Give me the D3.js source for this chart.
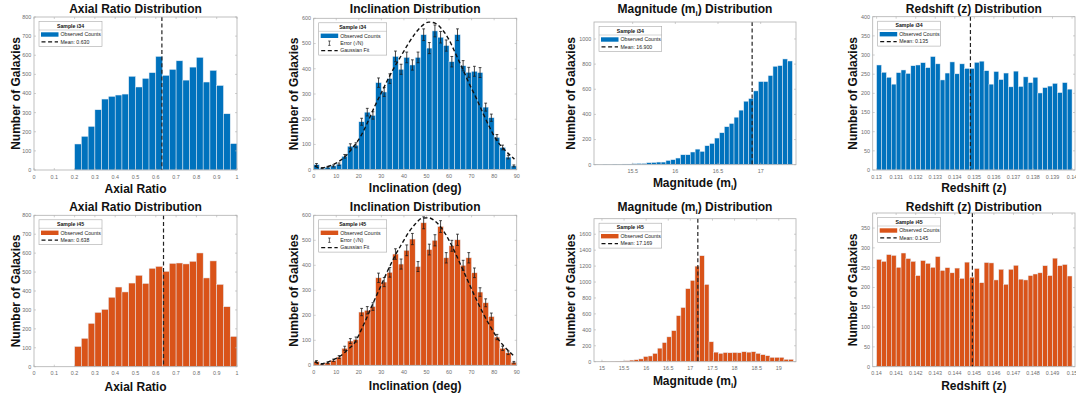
<!DOCTYPE html>
<html>
<head>
<meta charset="utf-8">
<style>
	body { margin: 0; background: #fff; }
	svg { display: block; font-family: "Liberation Sans", Arial, Helvetica, sans-serif; }
</style>
<script src="https://d3js.org/d3.v7.min.js"></script>
</head>
<body>
<div id="chart"></div>
<script>
	// ---- data ----
	var samples = ["i34", "i45"];

	// axial ratio: 24 bins from 0.2 to 1.0
	var axialStart = 0.2, axialWidth = 0.8 / 24;
	var axialI34 = [136, 176, 228, 315, 371, 385, 392, 397, 490, 434, 479, 509, 594, 495, 526, 571, 470, 538, 589, 460, 521, 442, 294, 138];
	var axialI45 = [107, 150, 229, 287, 303, 367, 421, 395, 442, 483, 440, 520, 530, 504, 546, 548, 543, 557, 601, 469, 559, 435, 317, 160];
	var axialMeans = [0.630, 0.638];
	var axialTicks = [0, 0.1, 0.2, 0.3, 0.4, 0.5, 0.6, 0.7, 0.8, 0.9, 1];
	var axialYTicks = [0, 100, 200, 300, 400, 500, 600, 700, 800];

	// inclination: 36 bins of 2.5 deg
	var inclStart = 0, inclWidth = 2.5;
	var inclI34 = [20, 6, 10, 15, 22, 53, 93, 97, 190, 228, 215, 345, 308, 361, 449, 398, 445, 415, 445, 535, 482, 550, 525, 492, 428, 535, 412, 386, 390, 385, 248, 206, 128, 88, 50, 15];
	var inclI45 = [15, 5, 10, 20, 33, 68, 97, 103, 213, 220, 235, 350, 333, 372, 445, 405, 460, 505, 395, 570, 463, 500, 555, 430, 478, 502, 400, 430, 370, 293, 250, 195, 113, 68, 50, 12];
	var fitDeg = [0.5, 3, 6, 9, 12, 15, 18, 21, 24, 27, 30, 33, 36, 39, 42, 45, 48, 51, 54, 57, 60, 63, 66, 69, 72, 75, 78, 81, 84, 87, 89];
	var fitI34 = [14, 6, 12, 22, 38, 62, 95, 135, 190, 250, 305, 360, 410, 455, 500, 540, 570, 585, 580, 555, 515, 458, 400, 340, 285, 225, 168, 118, 85, 58, 42];
	var fitI45 = [15, 5, 12, 24, 38, 62, 88, 140, 200, 262, 322, 382, 437, 485, 530, 565, 588, 590, 575, 545, 500, 445, 385, 325, 265, 210, 160, 115, 80, 52, 35];
	var inclTicks = [0, 10, 20, 30, 40, 50, 60, 70, 80, 90];
	var inclYTicks = [0, 100, 200, 300, 400, 500, 600];

	// magnitude m_i
	var magStartI34 = 15.035, magWidthI34 = 0.057;
	var magI34 = [2, 1, 3, 2, 4, 3, 5, 5, 8, 10, 10, 16, 18, 21, 21, 34, 40, 53, 79, 79, 101, 124, 106, 151, 169, 212, 254, 302, 328, 378, 434, 505, 526, 587, 661, 661, 709, 783, 788, 841, 825];
	var magStartI45 = 14.984, magWidthI45 = 0.106;
	var magI45 = [5, 2, 3, 5, 8, 12, 20, 25, 35, 65, 72, 104, 170, 240, 312, 390, 578, 680, 917, 1020, 1200, 1330, 970, 250, 120, 105, 115, 112, 115, 112, 125, 120, 125, 105, 88, 75, 55, 55, 55, 30, 30];
	var magMeans = [16.900, 17.169];
	var magTicksI34 = [15.5, 16, 16.5, 17];
	var magTicksI45 = [15, 15.5, 16, 16.5, 17, 17.5, 18, 18.5, 19];
	var magYTicksI34 = [0, 200, 400, 600, 800, 1000];
	var magYTicksI45 = [0, 200, 400, 600, 800, 1000, 1200, 1400, 1600];

	// redshift z: 40 bins per sample
	var zStartI34 = 0.13, zStartI45 = 0.14, zWidth = 0.00025;
	var zI34 = [274, 255, 242, 224, 254, 261, 252, 272, 274, 280, 267, 296, 277, 235, 253, 282, 251, 277, 265, 265, 281, 284, 259, 224, 257, 236, 253, 217, 258, 218, 243, 228, 242, 201, 215, 219, 226, 202, 228, 211];
	var zI45 = [271, 266, 283, 281, 251, 287, 273, 266, 230, 268, 261, 251, 278, 243, 250, 237, 249, 223, 264, 226, 248, 212, 263, 262, 219, 246, 208, 246, 256, 221, 219, 230, 234, 237, 255, 230, 274, 255, 258, 229];
	var zMeans = [0.1348, 0.1449];
	var zMeanLabels = ["0.135", "0.145"];
	var zTicksI34 = [0.13, 0.131, 0.132, 0.133, 0.134, 0.135, 0.136, 0.137, 0.138, 0.139, 0.14];
	var zTicksI45 = [0.14, 0.141, 0.142, 0.143, 0.144, 0.145, 0.146, 0.147, 0.148, 0.149, 0.15];
	var zYTicksI34 = [0, 50, 100, 150, 200, 250, 300, 350, 400];
	var zYTicksI45 = [0, 50, 100, 150, 200, 250, 300, 350];

	var colors = ["#0072BD", "#D95319"];

	var W = 1076, H = 398;
	var svg = d3.select("#chart").append("svg").attr("width", W).attr("height", H);

	function fmt(d) { return String(+d.toFixed(4)); }

	function drawPanel(p) {
		var g = svg.append("g");
		var x = d3.scaleLinear().domain(p.xDomain).range([p.box[0], p.box[2]]);
		var y = d3.scaleLinear().domain(p.yDomain).range([p.box[3], p.box[1]]);
		var pw = p.box[2] - p.box[0], ph = p.box[3] - p.box[1];
		var cx = (p.box[0] + p.box[2]) / 2, cy = (p.box[1] + p.box[3]) / 2;

		// bars
		var bins = p.counts.map(function(c, i) {
			return { x0: p.start + i * p.width, x1: p.start + (i + 1) * p.width, n: c };
		});
		g.selectAll("rect.bar").data(bins).enter().append("rect")
			.attr("x", function(d) { return x(d.x0); })
			.attr("width", function(d) { return x(d.x1) - x(d.x0); })
			.attr("y", function(d) { return y(d.n); })
			.attr("height", function(d) { return y(0) - y(d.n); })
			.attr("fill", p.color)
			.attr("stroke", "#e8eef5")
			.attr("stroke-width", 0.5);

		// error bars (sqrt N)
		if (p.errors) {
			var eb = g.append("g").attr("stroke", "#1a1a1a").attr("stroke-width", 0.8);
			bins.forEach(function(d) {
				var xc = x((d.x0 + d.x1) / 2), e = Math.sqrt(d.n);
				var lo = y(Math.max(0, d.n - e)), hi = y(d.n + e);
				eb.append("line").attr("x1", xc).attr("x2", xc).attr("y1", lo).attr("y2", hi);
				eb.append("line").attr("x1", xc - 1.4).attr("x2", xc + 1.4).attr("y1", lo).attr("y2", lo);
				eb.append("line").attr("x1", xc - 1.4).attr("x2", xc + 1.4).attr("y1", hi).attr("y2", hi);
			});
		}

		// gaussian fit
		if (p.fit) {
			var line = d3.line()
				.x(function(d) { return x(d[0]); })
				.y(function(d) { return y(d[1]); })
				.curve(d3.curveMonotoneX);
			g.append("path").datum(p.fit)
				.attr("d", line)
				.attr("fill", "none")
				.attr("stroke", "#111")
				.attr("stroke-width", 1.4)
				.attr("stroke-dasharray", "4,2.6");
		}

		// mean line
		if (p.mean != null) {
			g.append("line")
				.attr("x1", x(p.mean)).attr("x2", x(p.mean))
				.attr("y1", p.box[1]).attr("y2", p.box[3])
				.attr("stroke", "#222").attr("stroke-width", 1.2)
				.attr("stroke-dasharray", "4,2.6");
		}

		// axes box + inward ticks
		var axisCol = "#b0b0b0", tickCol = "#6e6e6e";
		g.append("rect").attr("x", p.box[0]).attr("y", p.box[1]).attr("width", pw).attr("height", ph)
			.attr("fill", "none").attr("stroke", axisCol).attr("stroke-width", 0.8);
		var ax = g.append("g").attr("stroke", axisCol).attr("stroke-width", 0.6);
		p.xTicks.forEach(function(t) {
			ax.append("line").attr("x1", x(t)).attr("x2", x(t)).attr("y1", p.box[3]).attr("y2", p.box[3] - 2);
			ax.append("line").attr("x1", x(t)).attr("x2", x(t)).attr("y1", p.box[1]).attr("y2", p.box[1] + 2);
		});
		p.yTicks.forEach(function(t) {
			ax.append("line").attr("x1", p.box[0]).attr("x2", p.box[0] + 2).attr("y1", y(t)).attr("y2", y(t));
			ax.append("line").attr("x1", p.box[2]).attr("x2", p.box[2] - 2).attr("y1", y(t)).attr("y2", y(t));
		});
		g.selectAll("text.xt").data(p.xTicks).enter().append("text")
			.attr("x", function(d) { return x(d); })
			.attr("y", p.box[3] + 8.6)
			.attr("text-anchor", "middle")
			.attr("font-size", 5.4).attr("fill", tickCol)
			.text(fmt);
		g.selectAll("text.yt").data(p.yTicks).enter().append("text")
			.attr("x", p.box[0] - 2.8)
			.attr("y", function(d) { return y(d) + 1.9; })
			.attr("text-anchor", "end")
			.attr("font-size", 5.4).attr("fill", tickCol)
			.text(fmt);

		// title and labels
		var title = g.append("text").attr("x", cx).attr("y", p.titleY)
			.attr("text-anchor", "middle").attr("font-size", 12).attr("font-weight", "bold").attr("fill", "#111");
		addText(title, p.title);
		var xl = g.append("text").attr("x", cx).attr("y", p.xlabelY)
			.attr("text-anchor", "middle").attr("font-size", 12).attr("font-weight", "bold").attr("fill", "#111");
		addText(xl, p.xlabel);
		g.append("text")
			.attr("transform", "translate(" + p.ylabelX + "," + cy + ") rotate(-90)")
			.attr("text-anchor", "middle").attr("font-size", 12).attr("font-weight", "bold").attr("fill", "#111")
			.text("Number of Galaxies");

		drawLegend(g, p.box[0] + 5, p.box[1] + 4.5, p.legendW, p.legendTitle, p.legendRows, p.color);
	}

	// text parts: plain strings or {sub: "..."}
	function addText(sel, parts) {
		var back = 0;
		parts.forEach(function(s) {
			if (typeof s === "string") {
				var t = sel.append("tspan").text(s);
				if (back) { t.attr("dy", -back); back = 0; }
			} else {
				sel.append("tspan").attr("font-size", 8).attr("dy", 3).text(s.sub);
				back = 3;
			}
		});
	}

	function drawLegend(g, lx, ly, w, title, rows, color) {
		var titleH = 8.5, rowH = 7.4;
		var h = titleH + rows.length * rowH + 1.6;
		var lg = g.append("g");
		lg.append("rect").attr("x", lx).attr("y", ly).attr("width", w).attr("height", h)
			.attr("fill", "#fff").attr("stroke", "#a8a8a8").attr("stroke-width", 0.6);
		lg.append("line").attr("x1", lx).attr("x2", lx + w).attr("y1", ly + titleH).attr("y2", ly + titleH)
			.attr("stroke", "#a8a8a8").attr("stroke-width", 0.5);
		lg.append("text").attr("x", lx + w / 2).attr("y", ly + 6.2)
			.attr("text-anchor", "middle").attr("font-size", 5.2).attr("font-weight", "bold").attr("fill", "#111")
			.text(title);
		rows.forEach(function(r, i) {
			var ry = ly + titleH + rowH * (i + 0.5) + 0.8;
			if (r.type === "patch") {
				lg.append("rect").attr("x", lx + 2).attr("y", ry - 2.2).attr("width", 17.5).attr("height", 4.4)
					.attr("fill", color);
			} else if (r.type === "dash") {
				lg.append("line").attr("x1", lx + 2.5).attr("x2", lx + 19).attr("y1", ry).attr("y2", ry)
					.attr("stroke", "#111").attr("stroke-width", 1.2).attr("stroke-dasharray", "4,2.6");
			} else if (r.type === "err") {
				var ex = lx + 10.7;
				var e = lg.append("g").attr("stroke", "#222").attr("stroke-width", 0.7);
				e.append("line").attr("x1", ex).attr("x2", ex).attr("y1", ry - 2.2).attr("y2", ry + 2.2);
				e.append("line").attr("x1", ex - 1.2).attr("x2", ex + 1.2).attr("y1", ry - 2.2).attr("y2", ry - 2.2);
				e.append("line").attr("x1", ex - 1.2).attr("x2", ex + 1.2).attr("y1", ry + 2.2).attr("y2", ry + 2.2);
			}
			lg.append("text").attr("x", lx + 21.5).attr("y", ry + 1.8)
				.attr("font-size", 5.2).attr("fill", "#222").text(r.text);
		});
	}

	// ---- panel layout ----
	var rowTitleY = [12.5, 210.5];
	var panels = [];
	[0, 1].forEach(function(s) {
		var top = s === 0;
		var sname = "Sample " + samples[s];
		panels.push({
			box: top ? [34, 17, 237, 170] : [34, 215.3, 237, 366.7],
			xDomain: [0, 1], yDomain: [0, 800],
			xTicks: axialTicks, yTicks: axialYTicks,
			start: axialStart, width: axialWidth, counts: top ? axialI34 : axialI45,
			color: colors[s], mean: axialMeans[s],
			title: ["Axial Ratio Distribution"], xlabel: ["Axial Ratio"],
			titleY: rowTitleY[s], xlabelY: top ? 193 : 390.5, ylabelX: 19.5,
			legendW: 63, legendTitle: sname,
			legendRows: [{ type: "patch", text: "Observed Counts" }, { type: "dash", text: "Mean: " + axialMeans[s].toFixed(3) }]
		});
		var fitVals = top ? fitI34 : fitI45;
		panels.push({
			box: top ? [313.7, 18.3, 516.7, 169.7] : [313.7, 215.3, 516.7, 365.3],
			xDomain: [0, 90], yDomain: [0, 600],
			xTicks: inclTicks, yTicks: inclYTicks,
			start: inclStart, width: inclWidth, counts: top ? inclI34 : inclI45,
			color: colors[s], errors: true,
			fit: fitDeg.map(function(d, i) { return [d, fitVals[i]]; }),
			title: ["Inclination Distribution"], xlabel: ["Inclination (deg)"],
			titleY: rowTitleY[s] + 0.5, xlabelY: top ? 192 : 390, ylabelX: 298,
			legendW: 68, legendTitle: sname,
			legendRows: [{ type: "patch", text: "Observed Counts" }, { type: "err", text: "Error (\u221AN)" }, { type: "dash", text: "Gaussian Fit" }]
		});
		panels.push({
			box: top ? [594, 22, 796, 164.7] : [594, 218.7, 796, 361.7],
			xDomain: top ? [15.047, 17.414] : [14.82, 19.39],
			yDomain: top ? [0, 1135] : [0, 1795],
			xTicks: top ? magTicksI34 : magTicksI45, yTicks: top ? magYTicksI34 : magYTicksI45,
			start: top ? magStartI34 : magStartI45, width: top ? magWidthI34 : magWidthI45,
			counts: top ? magI34 : magI45,
			color: colors[s], mean: magMeans[s],
			title: ["Magnitude (m", { sub: "i" }, ") Distribution"], xlabel: ["Magnitude (m", { sub: "i" }, ")"],
			titleY: rowTitleY[s], xlabelY: top ? 186.5 : 384.5, ylabelX: 575,
			legendW: 62.7, legendTitle: sname,
			legendRows: [{ type: "patch", text: "Observed Counts" }, { type: "dash", text: "Mean: " + magMeans[s].toFixed(3) }]
		});
		panels.push({
			box: top ? [872.7, 16.7, 1075, 170] : [872.7, 213, 1075, 366.7],
			xDomain: top ? [0.1298, 0.14015] : [0.1398, 0.15015],
			yDomain: top ? [0, 400] : [0, 388],
			xTicks: top ? zTicksI34 : zTicksI45, yTicks: top ? zYTicksI34 : zYTicksI45,
			start: top ? zStartI34 : zStartI45, width: zWidth, counts: top ? zI34 : zI45,
			color: colors[s], mean: zMeans[s],
			title: ["Redshift (z) Distribution"], xlabel: ["Redshift (z)"],
			titleY: rowTitleY[s], xlabelY: top ? 191.5 : 390, ylabelX: 856.5,
			legendW: 62.7, legendTitle: sname,
			legendRows: [{ type: "patch", text: "Observed Counts" }, { type: "dash", text: "Mean: " + zMeanLabels[s] }]
		});
	});

	panels.forEach(drawPanel);
</script>
</body>
</html>
